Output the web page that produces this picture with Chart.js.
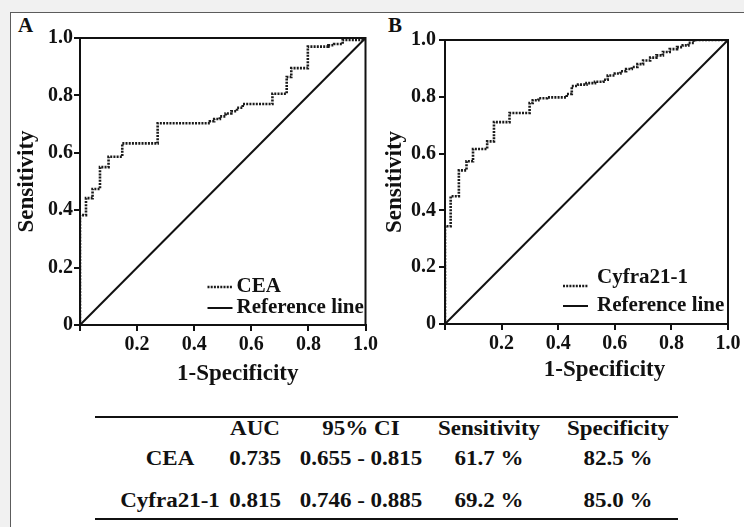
<!DOCTYPE html>
<html>
<head>
<meta charset="utf-8">
<script src="https://cdn.jsdelivr.net/npm/chart.js@4.4.1/dist/chart.umd.min.js"></script>
<style>
  body { margin:0; width:744px; height:527px; overflow:hidden; position:relative; background:#f1f1f1;
         font-family:"Liberation Serif","Times New Roman",serif; color:#111; }
  #frame { position:absolute; left:10px; top:12px; width:780px; height:560px; background:#fff; border:1px solid #5c5c5c; }
  .panel { position:absolute; font-weight:bold; font-size:21px; line-height:20px; }
  canvas { position:absolute; top:0; }
  .rule { position:absolute; left:95px; width:583px; height:2px; background:#111; }
  .cell { position:absolute; font-weight:bold; font-size:20px; line-height:20px; white-space:nowrap;
          transform:scaleX(1.15); }
</style>
</head>
<body>
<div id="frame"></div>
<div class="panel" style="left:18px;top:15px">A</div>
<div class="panel" style="left:388px;top:15px">B</div>
<canvas id="rocA" width="380" height="395" style="left:0"></canvas>
<canvas id="rocB" width="364" height="395" style="left:380px"></canvas>
<div class="rule" style="top:416px"></div>
<div class="rule" style="top:518px"></div>
<div id="tableau"></div>
<script>
// valeurs (1-specificite / sensibilite)
const ceaFpr = [0, 0, 0.021, 0.021, 0.044, 0.044, 0.07, 0.07, 0.1, 0.1, 0.148, 0.148, 0.272, 0.272,
  0.44, 0.44, 0.455, 0.455, 0.47, 0.47, 0.49, 0.49, 0.51, 0.51, 0.53, 0.53, 0.55, 0.55, 0.57, 0.57,
  0.674, 0.674, 0.724, 0.724, 0.74, 0.74, 0.798, 0.798, 0.87, 0.87, 0.89, 0.89, 0.92, 0.92, 1, 1];
const ceaTpr = [0, 0.383, 0.383, 0.442, 0.442, 0.474, 0.474, 0.55, 0.55, 0.586, 0.586, 0.633, 0.633, 0.703,
  0.703, 0.703, 0.703, 0.71, 0.71, 0.718, 0.718, 0.727, 0.727, 0.737, 0.737, 0.745, 0.745, 0.757, 0.757, 0.77,
  0.77, 0.806, 0.806, 0.864, 0.864, 0.895, 0.895, 0.97, 0.97, 0.975, 0.975, 0.979, 0.979, 0.993, 0.993, 1];

const cyfraFpr = [0, 0, 0.02, 0.02, 0.049, 0.049, 0.076, 0.076, 0.099, 0.099, 0.149, 0.149, 0.173, 0.173,
  0.228, 0.228, 0.299, 0.299, 0.31, 0.31, 0.33, 0.33, 0.36, 0.36, 0.43, 0.43, 0.448, 0.448,
  0.47, 0.47, 0.5, 0.5, 0.53, 0.53, 0.56, 0.56, 0.575, 0.575, 0.6, 0.6, 0.62, 0.62, 0.64, 0.64,
  0.66, 0.66, 0.68, 0.68, 0.7, 0.7, 0.725, 0.725, 0.747, 0.747, 0.77, 0.77, 0.794, 0.794,
  0.82, 0.82, 0.84, 0.84, 0.86, 0.86, 0.88, 0.88, 1];
const cyfraTpr = [0, 0.344, 0.344, 0.45, 0.45, 0.541, 0.541, 0.573, 0.573, 0.616, 0.616, 0.643, 0.643, 0.711,
  0.711, 0.743, 0.743, 0.778, 0.778, 0.788, 0.788, 0.795, 0.795, 0.798, 0.798, 0.81, 0.81, 0.838,
  0.838, 0.843, 0.843, 0.848, 0.848, 0.853, 0.853, 0.86, 0.86, 0.875, 0.875, 0.882, 0.882, 0.89, 0.89, 0.898,
  0.898, 0.905, 0.905, 0.915, 0.915, 0.928, 0.928, 0.938, 0.938, 0.946, 0.946, 0.958, 0.958, 0.968,
  0.968, 0.975, 0.975, 0.981, 0.981, 0.99, 0.99, 1, 1];

const refFpr = [0, 1];
const refTpr = [0, 1];
const axisTicks = [0, 0.2, 0.4, 0.6, 0.8, 1.0];

// tableau
const colHeads = ['', 'AUC', '95% CI', 'Sensitivity', 'Specificity'];
const rowCea = ['CEA', '0.735', '0.655 - 0.815', '61.7 %', '82.5 %'];
const rowCyfra = ['Cyfra21-1', '0.815', '0.746 - 0.885', '69.2 %', '85.0 %'];

const police = '"Liberation Serif","Times New Roman",serif';
const encre = '#111';

function toXY(xs, ys) {
  return xs.map(function (x, i) { return { x: x, y: ys[i] }; });
}

// cadre autour de la zone du graphique
const cadre = {
  id: 'cadre',
  afterDatasetsDraw(chart) {
    const a = chart.chartArea, ctx = chart.ctx;
    ctx.save();
    ctx.strokeStyle = encre;
    ctx.lineWidth = 2;
    ctx.strokeRect(a.left, a.top, a.right - a.left, a.bottom - a.top);
    ctx.restore();
  }
};

// legende dans le coin bas droit
const rocLegend = {
  id: 'rocLegend',
  afterDatasetsDraw(chart, args, o) {
    const a = chart.chartArea, ctx = chart.ctx;
    ctx.save();
    ctx.font = 'bold 21px ' + police;
    ctx.textBaseline = 'middle';
    ctx.fillStyle = encre;
    chart.data.datasets.forEach(function (ds, i) {
      const y = a.bottom - o.rows[i];
      const x0 = a.right - o.sample;
      ctx.beginPath();
      ctx.setLineDash(ds.borderDash || []);
      ctx.lineWidth = ds.borderWidth;
      ctx.strokeStyle = ds.borderColor;
      ctx.moveTo(x0, y + o.drop[i]);
      ctx.lineTo(x0 + 25, y + o.drop[i]);
      ctx.stroke();
      ctx.setLineDash([]);
      ctx.fillText(ds.label, a.right - o.text, y);
    });
    ctx.restore();
  }
};

// titre de l'axe x (un peu decale vers la droite comme sur la figure)
const xTitle = {
  id: 'xTitle',
  afterDraw(chart, args, o) {
    const a = chart.chartArea, ctx = chart.ctx;
    ctx.save();
    ctx.font = 'bold 23px ' + police;
    ctx.textAlign = 'center';
    ctx.fillStyle = encre;
    ctx.fillText(o.text, (a.left + a.right) / 2 + o.shift, o.y);
    ctx.restore();
  }
};

function makeRoc(id, label, fpr, tpr, mise) {
  const ctx = document.getElementById(id).getContext('2d');
  return new Chart(ctx, {
    type: 'scatter',
    data: {
      datasets: [{
        label: label,
        data: toXY(fpr, tpr),
        showLine: true,
        borderColor: '#1a1a1a',
        borderWidth: 2.6,
        borderDash: [2, 1.2],
        pointRadius: 0,
        tension: 0
      }, {
        label: 'Reference line',
        data: toXY(refFpr, refTpr),
        showLine: true,
        borderColor: encre,
        borderWidth: 2,
        pointRadius: 0
      }]
    },
    options: {
      responsive: false,
      animation: false,
      layout: { padding: { left: mise.left, right: mise.right, top: mise.top, bottom: 0 } },
      plugins: {
        legend: { display: false },
        tooltip: { enabled: false },
        rocLegend: mise.legend,
        xTitle: { text: '1-Specificity', shift: mise.xShift, y: mise.xY }
      },
      scales: {
        x: {
          type: 'linear', min: 0, max: 1,
          afterBuildTicks: function (s) { s.ticks = axisTicks.map(function (v) { return { value: v }; }); },
          afterFit: function (s) { s.height = mise.xHeight; },
          grid: { drawOnChartArea: false, tickLength: 6, color: encre, lineWidth: 2 },
          border: { color: encre, width: 2 },
          ticks: {
            color: encre, padding: 2, maxRotation: 0, autoSkip: false,
            font: { family: police, size: 20, weight: 'bold' },
            callback: function (v) { return v === 0 ? '' : v.toFixed(1); }
          }
        },
        y: {
          type: 'linear', min: 0, max: 1,
          afterBuildTicks: function (s) { s.ticks = axisTicks.map(function (v) { return { value: v }; }); },
          afterFit: function (s) { s.width = mise.yWidth; },
          grid: { drawOnChartArea: false, tickLength: 6, color: encre, lineWidth: 2 },
          border: { color: encre, width: 2 },
          ticks: {
            color: encre, padding: mise.yPad, autoSkip: false,
            font: { family: police, size: 20, weight: 'bold' },
            callback: function (v) { return v === 0 ? '0' : v.toFixed(1); }
          },
          title: {
            display: true, text: 'Sensitivity', color: encre, padding: 0,
            font: { family: police, size: 23, weight: 'bold', lineHeight: 1 }
          }
        }
      }
    },
    plugins: [cadre, rocLegend, xTitle]
  });
}

makeRoc('rocA', 'CEA', ceaFpr, ceaTpr, {
  left: 16, right: 14, top: 38, xHeight: 70, yWidth: 64, yPad: 1,
  xShift: 15, xY: 380,
  legend: { sample: 158, text: 129, rows: [38, 17], drop: [0, 0] }
});

makeRoc('rocB', 'Cyfra21-1', cyfraFpr, cyfraTpr, {
  left: 4, right: 16, top: 40, xHeight: 71, yWidth: 61, yPad: 3,
  xShift: 18, xY: 376,
  legend: { sample: 165, text: 131, rows: [46, 18], drop: [8, 0] }
});

// tableau sous les graphiques
const colCenters = [170, 255, 361, 489, 618];
const rowTops = [418, 448, 490];
const tab = document.getElementById('tableau');
[colHeads, rowCea, rowCyfra].forEach(function (ligne, r) {
  ligne.forEach(function (txt, c) {
    if (!txt) return;
    const d = document.createElement('div');
    d.className = 'cell';
    d.textContent = txt;
    d.style.top = rowTops[r] + 'px';
    d.style.left = (colCenters[c] - 100) + 'px';
    d.style.width = '200px';
    d.style.textAlign = 'center';
    tab.appendChild(d);
  });
});
</script>
</body>
</html>
